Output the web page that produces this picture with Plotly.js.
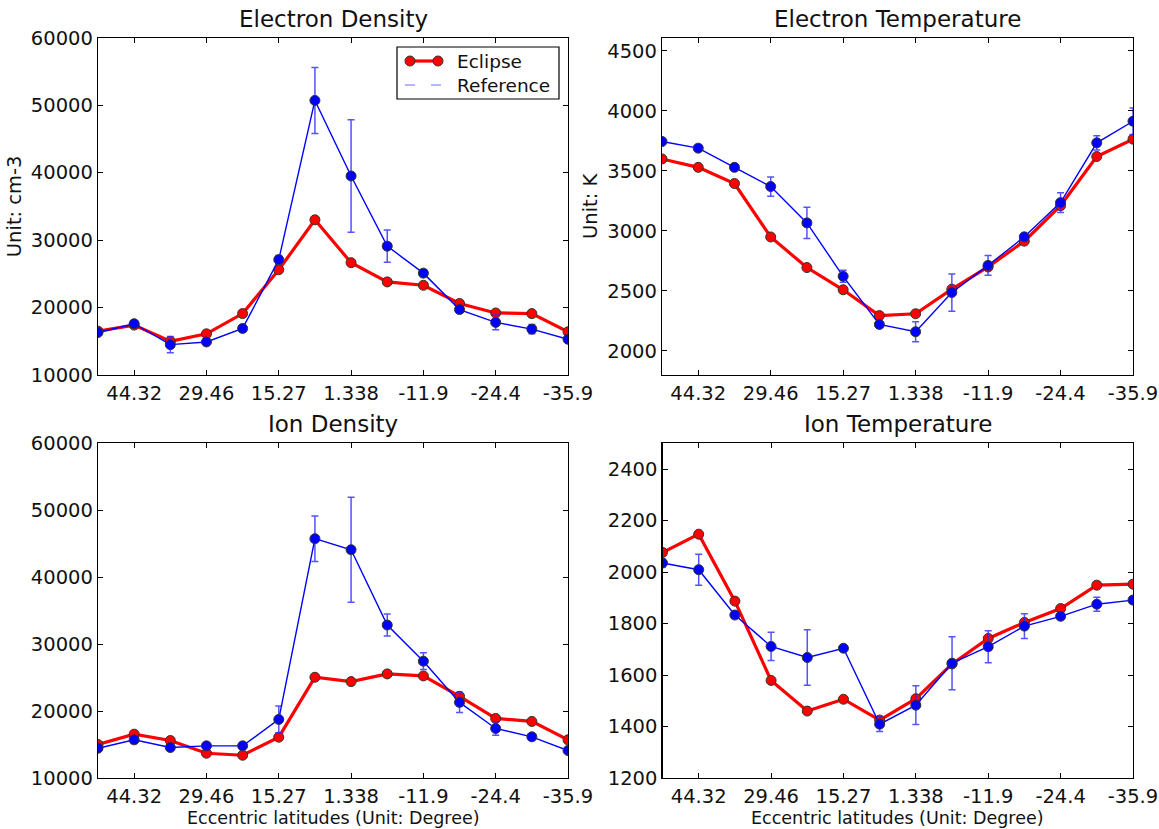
<!DOCTYPE html>
<html>
<head>
<meta charset="utf-8">
<script src="https://cdn.plot.ly/plotly-3.0.1.min.js"></script>
<style>html,body{margin:0;padding:0;background:#fff;}#chart{width:1159px;height:829px;}</style>
</head>
<body>
<div id="chart"></div>
<script>
// ---- data ----
const positions = [0, 1, 2, 3, 4, 5, 6, 7, 8, 9, 10, 11, 12, 13];
const tickPositions = [1, 3, 5, 7, 9, 11, 13];
const tickLabels = ['44.32', '29.46', '15.27', '1.338', '-11.9', '-24.4', '-35.9'];

const elecDensEclipse = [16500, 17400, 15000, 16100, 19100, 25600, 33000, 26650, 23800, 23300, 20600, 19200, 19100, 16400];
const elecDensRef     = [16300, 17600, 14500, 14900, 16900, 27100, 50700, 39500, 29100, 25100, 19700, 17800, 16800, 15300];
const elecDensRefErr  = [300, 400, 1200, 400, 500, 600, 4900, 8350, 2400, 500, 500, 1100, 700, 500];

const elecTempEclipse = [3600, 3530, 3395, 2950, 2695, 2510, 2295, 2310, 2515, 2700, 2915, 3210, 3620, 3765];
const elecTempRef     = [3745, 3690, 3530, 3370, 3067, 2622, 2221, 2160, 2487, 2713, 2951, 3236, 3734, 3914];
const elecTempRefErr  = [20, 20, 20, 80, 130, 50, 20, 83, 155, 83, 20, 83, 60, 110];

const ionDensEclipse  = [15000, 16550, 15600, 13700, 13400, 16100, 25050, 24400, 25550, 25250, 22200, 18900, 18450, 15700];
const ionDensRef      = [14450, 15700, 14550, 14800, 14800, 18750, 45750, 44100, 32850, 27450, 21300, 17400, 16150, 14100];
const ionDensRefErr   = [400, 400, 400, 400, 400, 2000, 3400, 7850, 1650, 1250, 1500, 1000, 400, 300];

const ionTempEclipse  = [2076, 2147, 1887, 1579, 1460, 1506, 1425, 1508, 1643, 1742, 1804, 1858, 1949, 1953];
const ionTempRef      = [2035, 2009, 1833, 1711, 1668, 1704, 1409, 1483, 1646, 1710, 1790, 1828, 1875, 1891];
const ionTempRefErr   = [15, 60, 10, 55, 108, 10, 28, 75, 103, 62, 48, 10, 27, 10];

const densityTicks = [10000, 20000, 30000, 40000, 50000, 60000];
const elecTempTicks = [2000, 2500, 3000, 3500, 4000, 4500];
const ionTempTicks = [1200, 1400, 1600, 1800, 2000, 2200, 2400];

const panelTitles = ['Electron Density', 'Electron Temperature', 'Ion Density', 'Ion Temperature'];
const seriesNames = ['Eclipse', 'Reference'];

// ---- styling ----
const W = 1159, H = 829;
const FONT = 'DejaVu Sans, sans-serif';
const TXT = '#111';
const RED = '#ff0000', BLUE = '#0000ff';
const FS = 19.5, TFS = 23, LFS = 18.5, XTFS = 17.5;

function px(x) { return x / W; }
function py(y) { return 1 - y / H; }

const panels = [
  {ax: '', xd: [px(98), px(568)], yd: [py(375), py(37.7)], range: [10000, 60000], tv: densityTicks, ecl: elecDensEclipse, ref: elecDensRef, err: elecDensRefErr, ytitle: 'Unit: cm-3', xtitle: ''},
  {ax: '2', xd: [px(662), px(1133)], yd: [py(375), py(37.7)], range: [1800, 4610], tv: elecTempTicks, ecl: elecTempEclipse, ref: elecTempRef, err: elecTempRefErr, ytitle: 'Unit: K', xtitle: ''},
  {ax: '3', xd: [px(98), px(568)], yd: [py(778), py(443.3)], range: [10000, 60000], tv: densityTicks, ecl: ionDensEclipse, ref: ionDensRef, err: ionDensRefErr, ytitle: '', xtitle: 'Eccentric latitudes (Unit: Degree)'},
  {ax: '4', xd: [px(662.5), px(1133)], yd: [py(778), py(443.3)], range: [1200, 2500], tv: ionTempTicks, ecl: ionTempEclipse, ref: ionTempRef, err: ionTempRefErr, ytitle: '', xtitle: 'Eccentric latitudes (Unit: Degree)'}
];

const traces = [];
const layout = {
  width: W, height: H,
  margin: {l: 0, r: 0, t: 0, b: 0},
  paper_bgcolor: '#fff', plot_bgcolor: '#fff',
  font: {family: FONT, size: FS, color: TXT},
  showlegend: false,
  annotations: [],
  shapes: []
};

panels.forEach((p, i) => {
  const xa = 'x' + p.ax, ya = 'y' + p.ax;
  traces.push({
    x: positions, y: p.ecl, xaxis: xa, yaxis: ya, type: 'scatter', mode: 'lines+markers',
    name: seriesNames[0],
    line: {color: RED, width: 3.2},
    marker: {color: RED, size: 10, line: {color: '#333', width: 1}}
  });
  traces.push({
    x: positions, y: p.ref, xaxis: xa, yaxis: ya, type: 'scatter', mode: 'lines+markers',
    name: seriesNames[1],
    line: {color: BLUE, width: 1.4},
    marker: {color: BLUE, size: 10, line: {color: '#333', width: 1}},
    error_y: {type: 'data', array: p.err, visible: true, color: 'rgba(40,40,255,0.8)', thickness: 1.5, width: 3.5}
  });
  layout['xaxis' + p.ax] = {
    domain: p.xd, anchor: ya, range: [0, 13], fixedrange: true,
    tickmode: 'array', tickvals: tickPositions, ticktext: tickLabels,
    ticks: 'inside', ticklen: 5, tickwidth: 1, tickcolor: '#000',
    showline: true, linecolor: '#000', linewidth: 1.2, mirror: 'ticks',
    showgrid: false, zeroline: false,
    tickfont: {family: FONT, size: FS, color: TXT}
  };
  layout['yaxis' + p.ax] = {
    domain: p.yd, anchor: xa, range: p.range, fixedrange: true,
    tickmode: 'array', tickvals: p.tv, ticktext: p.tv.map(String),
    ticks: 'inside', ticklen: 5, tickwidth: 1, tickcolor: '#000',
    showline: true, linecolor: '#000', linewidth: 1.2, mirror: 'ticks',
    showgrid: false, zeroline: false,
    tickfont: {family: FONT, size: FS, color: TXT},
    title: {text: p.ytitle, font: {family: FONT, size: FS, color: TXT}, standoff: 4}
  };
  layout.annotations.push({
    text: panelTitles[i], xref: 'paper', yref: 'paper',
    x: (p.xd[0] + p.xd[1]) / 2, y: p.yd[1] + 19 / H, xanchor: 'center', yanchor: 'middle',
    showarrow: false, font: {family: FONT, size: TFS, color: TXT}
  });
  if (p.xtitle) {
    layout.annotations.push({
      text: p.xtitle, xref: 'paper', yref: 'paper',
      x: (p.xd[0] + p.xd[1]) / 2, y: 0, xanchor: 'center', yanchor: 'bottom', borderpad: 0,
      showarrow: false, font: {family: FONT, size: XTFS, color: TXT}
    });
  }
});

// ---- legend (matplotlib-style box inside the first panel) ----
const LB = {l: 397, r: 559, t: 47, b: 99};
layout.shapes.push({type: 'rect', xref: 'paper', yref: 'paper', x0: px(LB.l), x1: px(LB.r), y0: py(LB.b), y1: py(LB.t),
  line: {color: '#000', width: 1.2}, fillcolor: '#fff', layer: 'above'});
layout.shapes.push({type: 'line', xref: 'paper', yref: 'paper', x0: px(410), x1: px(438), y0: py(61), y1: py(61),
  line: {color: RED, width: 3.2}, layer: 'above'});
[410, 438].forEach(cx => {
  layout.shapes.push({type: 'circle', xref: 'paper', yref: 'paper', x0: px(cx - 5), x1: px(cx + 5), y0: py(66), y1: py(56),
    line: {color: '#333', width: 1}, fillcolor: RED, layer: 'above'});
});
layout.shapes.push({type: 'line', xref: 'paper', yref: 'paper', x0: px(405), x1: px(445), y0: py(85), y1: py(85),
  line: {color: 'rgba(60,60,255,0.75)', width: 1.2, dash: '10px,16px'}, layer: 'above'});
layout.annotations.push({text: seriesNames[0], xref: 'paper', yref: 'paper', x: px(455), y: py(61), xanchor: 'left', yanchor: 'middle',
  showarrow: false, font: {family: FONT, size: LFS, color: TXT}});
layout.annotations.push({text: seriesNames[1], xref: 'paper', yref: 'paper', x: px(455), y: py(85), xanchor: 'left', yanchor: 'middle',
  showarrow: false, font: {family: FONT, size: LFS, color: TXT}});

Plotly.newPlot('chart', traces, layout, {staticPlot: true, displayModeBar: false});
</script>
</body>
</html>
